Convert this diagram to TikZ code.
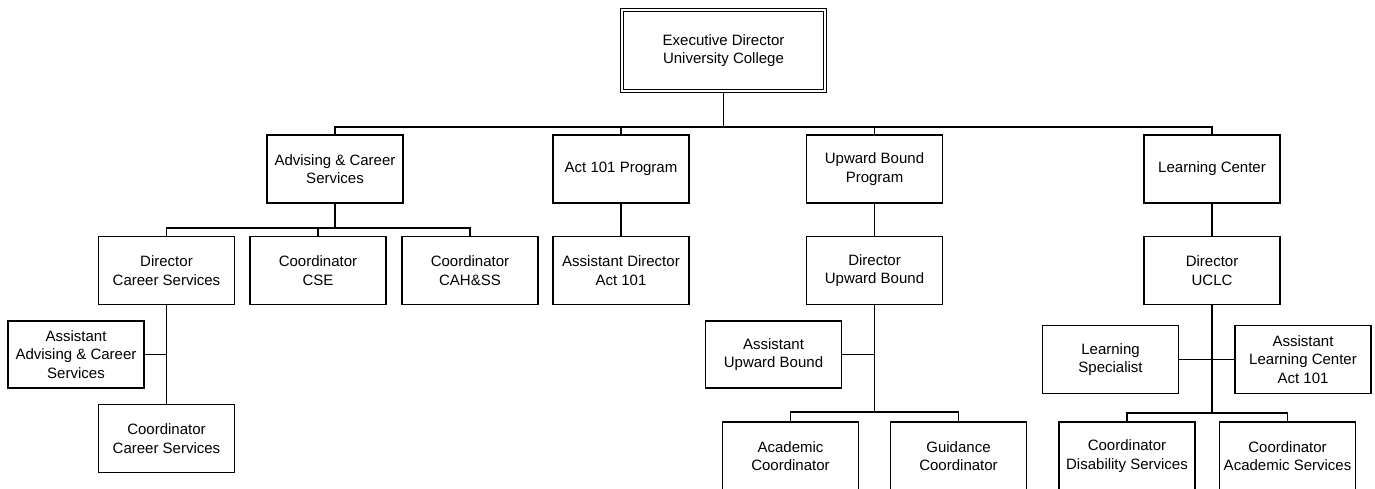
\documentclass[tikz,border=0pt]{standalone}
\usepackage{fontspec}
\setmainfont{Liberation Sans}
\begin{document}
\begin{tikzpicture}[x=1pt,y=-1pt,
  box/.style={draw=black, line width=1.9pt, fill=white, minimum width=136pt, minimum height=68pt,
    align=center, inner sep=2pt, font=\fontsize{15}{18.3}\selectfont},
  conn/.style={line width=1.9pt, black}]
\useasboundingbox (0,0) rectangle (1375,488);
\clip (0,0) rectangle (1375,488);
\fill[white] (0,0) rectangle (1375,488);
% top
\node[draw=black, double=white, line width=1.5pt, double distance=1.6pt, fill=white,
  minimum width=203pt, minimum height=81pt, align=center,
  font=\fontsize{15}{18.3}\selectfont] (exec) at (723.5,50.5) {Executive Director\\University College};
% level 2
\node[box] (adv) at (335,169) {Advising \& Career\\Services};
\node[box] (act) at (621,169) {Act 101 Program};
\node[box] (ub) at (874.5,169) {Upward Bound\\Program};
\node[box] (lc) at (1212,169) {Learning Center};
% level 3
\node[box] (dcs) at (166.5,270.5) {Director\\Career Services};
\node[box] (cse) at (318,270.5) {Coordinator\\CSE};
\node[box] (cah) at (470,270.5) {Coordinator\\CAH\&SS};
\node[box] (ada) at (621,270.5) {Assistant Director\\Act 101};
\node[box] (dub) at (874.5,270.5) {Director\\Upward Bound};
\node[box] (duc) at (1212,270.5) {Director\\UCLC};
% level 4
\node[box, minimum height=67pt] (aacs) at (76,354.5) {Assistant\\Advising \& Career\\Services};
\node[box] (ccs) at (166.5,438.5) {Coordinator\\Career Services};
\node[box, minimum height=67pt] (aub) at (773.5,354.5) {Assistant\\Upward Bound};
\node[box] (acad) at (790.5,456) {Academic\\Coordinator};
\node[box] (guid) at (958.5,456) {Guidance\\Coordinator};
\node[box] (ls) at (1110.5,359.5) {Learning\\Specialist};
\node[box] (alc) at (1303,359.5) {Assistant\\Learning Center\\Act 101};
\node[box] (cds) at (1127,456) {Coordinator\\Disability Services};
\node[box] (cas) at (1287.5,456) {Coordinator\\Academic Services};
% bus coordinates
\coordinate (b1) at (723.5,127);
\coordinate (b2) at (335,228);
\coordinate (b3) at (874.5,412);
\coordinate (b4) at (1212,413);
% connectors
\draw[conn] (exec.south) -- (b1);
\draw[conn] (adv.north) |- (b1);
\draw[conn] (lc.north) |- (b1);
\draw[conn] (act.north) -- (act.north |- b1);
\draw[conn] (ub.north) -- (ub.north |- b1);
\draw[conn] (adv.south) -- (b2);
\draw[conn] (dcs.north) |- (b2);
\draw[conn] (cah.north) |- (b2);
\draw[conn] (cse.north) -- (cse.north |- b2);
\draw[conn] (act.south) -- (ada.north);
\draw[conn] (ub.south) -- (dub.north);
\draw[conn] (lc.south) -- (duc.north);
\draw[conn] (dcs.south) -- (ccs.north);
\draw[conn] (aacs.east) -- (aacs.east -| dcs.south);
\draw[conn] (dub.south) -- (b3);
\draw[conn] (aub.east) -- (aub.east -| dub.south);
\draw[conn] (acad.north) |- (b3);
\draw[conn] (guid.north) |- (b3);
\draw[conn] (duc.south) -- (b4);
\draw[conn] (ls.east) -- (alc.west);
\draw[conn] (cds.north) |- (b4);
\draw[conn] (cas.north) |- (b4);
\end{tikzpicture}
\end{document}
